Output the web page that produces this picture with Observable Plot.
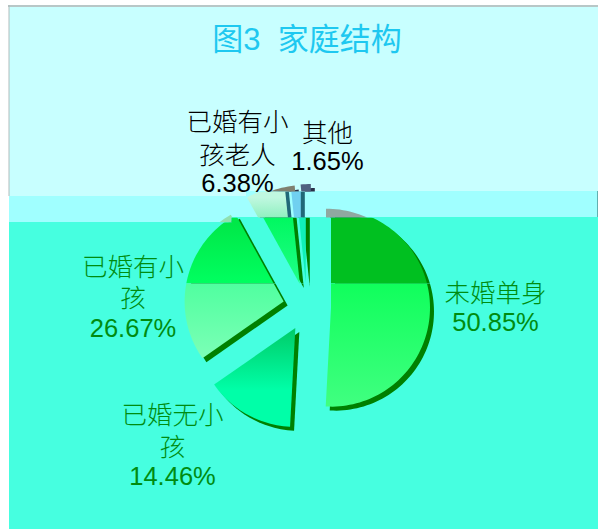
<!DOCTYPE html>
<html><head><meta charset="utf-8">
<script src="https://cdn.jsdelivr.net/npm/d3@7"></script>
<script src="https://cdn.jsdelivr.net/npm/@observablehq/plot@0.6"></script>
<style>html,body{margin:0;background:#fff}svg{display:block}</style>
</head><body><div id="chart"></div>
<script>
const categories = ["未婚单身","已婚无小孩","已婚有小孩","已婚有小孩老人","其他"];
const shares = [50.85,14.46,26.67,6.38,1.65];
const titleText = "图3  家庭结构";

// pie geometry (in chart units, which equal pixels here)
const cx = 306.5, cy = 306.5, radius = 99, explode = 24, depth = 4;

// slices as polygons derived from the shares
const slices = [];
{
  let start = 0;
  shares.forEach((v, i) => {
    const sweep = v / 100 * 360, mid = start + sweep / 2, rad = a => a * Math.PI / 180;
    const ax = cx + explode * Math.sin(rad(mid)), ay = cy - explode * Math.cos(rad(mid));
    const pts = [{x: ax, y: ay}];
    const n = Math.max(4, Math.ceil(sweep / 2));
    for (let k = 0; k <= n; k++) {
      const a = rad(start + sweep * k / n);
      pts.push({x: ax + radius * Math.sin(a), y: ay - radius * Math.cos(a)});
    }
    pts.push({x: ax, y: ay});
    slices.push(pts);
    start += sweep;
  });
}

// the picture is broken into horizontal strips, each with its own tint and shift
const strips = [
  {id: "top", dx: 5, rects: [[246,598,0,191]], shadow: "#283048",
   fills: [null,null,null,"#808070","#506080"]},
  {id: "mid", dx: -5, rects: [[0,246,196,217],[0,231,217,222],[246,598,191,217]], shadow: "#206878",
   fills: ["#90A8A0",null,"#90E0B0","url(#gMid4)","#70D0F0"]},
  {id: "upper", dx: 0, rects: [[0,231,222,283],[231,598,217,283]], shadow: "#008000",
   fills: ["#00C020",null,"url(#gUp3)","url(#gUp4)","#10F0B8"]},
  {id: "lower", dx: 0, rects: [[0,598,283,529]], shadow: "#008000",
   fills: ["url(#gLow1)","url(#gLow2)","url(#gLow3)","#30FF90","#20FFD0"]}
];
const gradients = [
  ["gMid4",197,217,"#C0F8E0","#90F0C0"],
  ["gUp3",222,283,"#00E848","#00FF60"],
  ["gUp4",217,283,"#00F860","#20FF88"],
  ["gLow1",283,405,"#10FF5C","#40FF80"],
  ["gLow2",328,390,"#00CC68","#00FFA8"],
  ["gLow3",283,365,"#50FFA0","#80FFB8"]
];

const bgRects = [
  {x1:9,x2:246,y1:7,y2:196,f:"#C8FFFF"},{x1:246,x2:598,y1:7,y2:191,f:"#C8FFFF"},
  {x1:9,x2:231,y1:196,y2:222,f:"#A0FFFF"},{x1:231,x2:246,y1:196,y2:217,f:"#A0FFFF"},{x1:246,x2:598,y1:191,y2:217,f:"#A0FFFF"},
  {x1:9,x2:231,y1:222,y2:529,f:"#46FFE0"},{x1:231,x2:598,y1:217,y2:529,f:"#46FFE0"}
];

const defs = (index, {x, y}) => {
  const d = d3.create("svg:defs");
  for (const s of strips) {
    const c = d.append("clipPath").attr("id", "clip-" + s.id);
    for (const [a,b,p,q] of s.rects)
      c.append("rect").attr("x", x(a)).attr("y", y(p)).attr("width", x(b)-x(a)).attr("height", y(q)-y(p));
  }
  for (const [id,a,b,c0,c1] of gradients) {
    const g = d.append("linearGradient").attr("id", id).attr("gradientUnits","userSpaceOnUse")
      .attr("x1",0).attr("x2",0).attr("y1",y(a)).attr("y2",y(b));
    g.append("stop").attr("offset",0).attr("stop-color",c0);
    g.append("stop").attr("offset",1).attr("stop-color",c1);
  }
  return d.node();
};

const clipped = id => function(i, s, v, dim, ctx, next) {
  const g = next(i, s, v, dim, ctx);
  g.setAttribute("clip-path", `url(#clip-${id})`);
  return g;
};

const pieMarks = strips.flatMap(st => slices.flatMap((pts, i) => {
  if (!st.fills[i]) return [];
  return [
    Plot.line(pts, {x: d => d.x + st.dx + depth, y: d => d.y + depth, fill: st.shadow, stroke: "none", render: clipped(st.id)}),
    Plot.line(pts, {x: d => d.x + st.dx, y: "y", fill: st.fills[i], stroke: "none", render: clipped(st.id)})
  ];
}));

const wrap = s => s.length > 4 ? [s.slice(0,4), s.slice(4)] : [s];
const labelLayout = [
  {x:495, ys:[293,322], color:"#008C10"},
  {x:172, ys:[415,447,476], color:"#008C10"},
  {x:132.5, ys:[267,298,328], color:"#008C10"},
  {x:237, ys:[122,155,183], color:"#000"},
  {x:327, ys:[133,161], color:"#000"}
];
const labels = categories.flatMap((c,i) => {
  const lines = [...wrap(c), shares[i].toFixed(2) + "%"], l = labelLayout[i];
  return lines.map((text,k) => ({text, x:l.x, y:l.ys[k], color:l.color}));
});
const fontFamily = '"Liberation Sans","Noto Sans CJK SC",sans-serif';

const chart = Plot.plot({
  width: 598, height: 529, margin: 0,
  style: {background: "transparent", fontFamily},
  x: {domain: [0,598], range: [0,598], axis: null},
  y: {domain: [0,529], range: [0,529], axis: null},
  marks: [
    defs,
    Plot.rect(bgRects, {x1:"x1",x2:"x2",y1:"y1",y2:"y2",fill:"f"}),
    Plot.ruleY([5.5], {x1:8, x2:598, stroke:"#A0B4B4", strokeWidth:1.5}),
    Plot.ruleX([8.5], {y1:5, y2:196, stroke:"#B0BCBC", strokeWidth:1}),
    Plot.ruleX([597.5], {y1:191, y2:217, stroke:"#206060", strokeWidth:1}),
    ...pieMarks,
    Plot.text([titleText], {x:306.5, y:40, text:d=>d, fill:"#1EC8F0", fontSize:31, fontFamily}),
    Plot.text(labels, {x:"x", y:"y", text:"text", fill:"color", fontSize:25.5, lineAnchor:"middle", textAnchor:"middle", fontFamily, fontWeight:300})
  ]
});
document.getElementById("chart").append(chart);
</script></body></html>
